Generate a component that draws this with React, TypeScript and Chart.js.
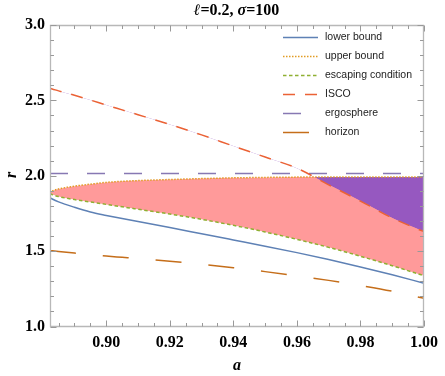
import React, { useEffect, useRef } from 'react';
import { Chart, registerables } from 'chart.js';

Chart.register(...registerables);

// ---------- data ----------
const aValues = [0.8823, 0.8825, 0.883, 0.885, 0.89, 0.895, 0.9, 0.905, 0.91, 0.92, 0.93, 0.94, 0.95, 0.96, 0.97, 0.98, 0.99, 1.0];
const lowerBound = [1.857, 1.852, 1.846, 1.827, 1.791, 1.76, 1.737, 1.716, 1.696, 1.656, 1.615, 1.574, 1.533, 1.49, 1.444, 1.395, 1.343, 1.287];
const upperBound = [1.884, 1.891, 1.898, 1.912, 1.931, 1.944, 1.956, 1.963, 1.968, 1.975, 1.981, 1.986, 1.989, 1.991, 1.992, 1.992, 1.992, 1.992];
const escapingCondition = [1.884, 1.88, 1.875, 1.862, 1.842, 1.826, 1.81, 1.794, 1.778, 1.746, 1.711, 1.671, 1.627, 1.578, 1.525, 1.466, 1.403, 1.337];
const isco = [2.58, 2.579, 2.576, 2.563, 2.534, 2.502, 2.469, 2.437, 2.405, 2.34, 2.271, 2.197, 2.124, 2.05, 1.94, 1.832, 1.72, 1.629];
const ergoA = [0.8823, 1.0];
const ergosphere = [2.015, 2.015];
const horizon = [1.503, 1.503, 1.502, 1.498, 1.487, 1.477, 1.467, 1.459, 1.451, 1.433, 1.413, 1.39, 1.364, 1.336, 1.306, 1.272, 1.234, 1.187];

const X_MIN = 0.8823;
const X_MAX = 1.0;
const Y_MIN = 1.0;
const Y_MAX = 3.0;
const xTickValues = [0.9, 0.92, 0.94, 0.96, 0.98, 1.0];
const xTickLabels = ['0.90', '0.92', '0.94', '0.96', '0.98', '1.00'];
const yTickValues = [1.0, 1.5, 2.0, 2.5, 3.0];
const yTickLabels = ['1.0', '1.5', '2.0', '2.5', '3.0'];
const X_MINOR = 0.005;
const X_MAJOR = 0.02;
const Y_MINOR = 0.1;
const Y_MAJOR = 0.5;

const seriesLabels = ['lower bound', 'upper bound', 'escaping condition', 'ISCO', 'ergosphere', 'horizon'];

const SERIF = "'Liberation Serif', 'Times New Roman', serif";
const SANS = "'Liberation Sans', Arial, sans-serif";

const pts = (xs: number[], ys: number[]) => xs.map((x, i) => ({ x, y: ys[i] }));

const framePlugin = {
  id: 'frameTicks',
  afterDatasetsDraw(chart: any) {
    const { ctx, chartArea: ca, scales } = chart;
    const xs = scales.x;
    const ys = scales.y;
    ctx.save();
    // frame
    ctx.strokeStyle = '#b8b8b8';
    ctx.lineWidth = 1.3;
    const L = Math.round(ca.left) + 0.5;
    const R = Math.round(ca.right) - 0.5;
    const T = Math.round(ca.top) + 0.5;
    const B = Math.round(ca.bottom) - 0.5;
    ctx.beginPath();
    ctx.rect(L, T, R - L, B - T);
    ctx.stroke();
    // ticks (inward on all sides)
    ctx.strokeStyle = '#999999';
    ctx.lineWidth = 1;
    ctx.beginPath();
    for (let k = Math.ceil(X_MIN / X_MINOR - 1e-6); k * X_MINOR <= X_MAX + 1e-9; k++) {
      const v = k * X_MINOR;
      const px = Math.round(xs.getPixelForValue(v)) + 0.5;
      const r = v / X_MAJOR;
      const major = Math.abs(r - Math.round(r)) < 1e-6;
      const len = major ? 6 : 3.5;
      ctx.moveTo(px, B);
      ctx.lineTo(px, B - len);
      ctx.moveTo(px, T);
      ctx.lineTo(px, T + len);
    }
    for (let k = Math.ceil(Y_MIN / Y_MINOR - 1e-6); k * Y_MINOR <= Y_MAX + 1e-9; k++) {
      const v = k * Y_MINOR;
      const py = Math.round(ys.getPixelForValue(v)) + 0.5;
      const r = v / Y_MAJOR;
      const major = Math.abs(r - Math.round(r)) < 1e-6;
      const len = major ? 6 : 3.5;
      ctx.moveTo(L, py);
      ctx.lineTo(L + len, py);
      ctx.moveTo(R, py);
      ctx.lineTo(R - len, py);
    }
    ctx.stroke();

    // legend inside plot
    const ds = chart.data.datasets;
    const x0 = ca.right - 141;
    const x1 = x0 + 35;
    let yy = 37;
    ctx.font = `10.5px ${SANS}`;
    ctx.textBaseline = 'middle';
    ctx.textAlign = 'left';
    for (let i = 1; i <= 6; i++) {
      const d = ds[i];
      ctx.save();
      ctx.strokeStyle = d.borderColor;
      ctx.lineWidth = d.borderWidth;
      ctx.setLineDash(d.borderDash || []);
      ctx.beginPath();
      ctx.moveTo(x0, yy + 0.5);
      ctx.lineTo(x1, yy + 0.5);
      ctx.stroke();
      ctx.restore();
      ctx.fillStyle = '#222';
      ctx.fillText(d.label, x1 + 7, yy);
      yy += 19;
    }

    // title with italic symbols
    const parts = [
      { t: '\u2113', it: true },
      { t: '=0.2, ', it: false },
      { t: '\u03c3', it: true },
      { t: '=100', it: false },
    ];
    const fontFor = (it: boolean) => `${it ? 'italic ' : ''}bold 16px ${SERIF}`;
    let total = 0;
    for (const p of parts) {
      ctx.font = fontFor(p.it);
      total += ctx.measureText(p.t).width;
    }
    let tx = 236.5 - total / 2;
    ctx.fillStyle = '#000';
    ctx.textBaseline = 'middle';
    for (const p of parts) {
      ctx.font = fontFor(p.it);
      ctx.fillText(p.t, tx, 11);
      tx += ctx.measureText(p.t).width;
    }

    // axis titles
    ctx.font = `italic bold 16px ${SERIF}`;
    ctx.textAlign = 'center';
    ctx.fillText('a', (ca.left + ca.right) / 2, 366);
    ctx.save();
    ctx.translate(12, 175);
    ctx.rotate(-Math.PI / 2);
    ctx.fillText('r', 0, 0);
    ctx.restore();
    ctx.restore();
  },
};

export default function App() {
  const ref = useRef<HTMLCanvasElement>(null);
  useEffect(() => {
    const lineBase = {
      fill: false,
      pointRadius: 0,
      borderWidth: 1.5,
      cubicInterpolationMode: 'monotone' as const,
    };
    const chart = new Chart(ref.current as HTMLCanvasElement, {
      type: 'line',
      data: {
        datasets: [
          {
            ...lineBase,
            label: 'purple region',
            data: pts(aValues, upperBound),
            borderWidth: 0,
            borderColor: 'rgba(0,0,0,0)',
            fill: { target: 4, above: '#9658c0', below: 'rgba(0,0,0,0)' },
          },
          {
            ...lineBase,
            label: seriesLabels[0],
            data: pts(aValues, lowerBound),
            borderColor: '#5e81b5',
          },
          {
            ...lineBase,
            label: seriesLabels[1],
            data: pts(aValues, upperBound),
            borderColor: '#e19c24',
            borderDash: [1.5, 1.5],
            backgroundColor: '#ff9a9a',
            fill: 3,
          },
          {
            ...lineBase,
            label: seriesLabels[2],
            data: pts(aValues, escapingCondition),
            borderColor: '#8fb032',
            borderDash: [3.5, 2.5],
          },
          {
            ...lineBase,
            label: seriesLabels[3],
            data: pts(aValues, isco),
            borderColor: '#eb6235',
            borderDash: [12, 10],
          },
          {
            ...lineBase,
            label: seriesLabels[4],
            data: pts(ergoA, ergosphere),
            borderColor: '#8778b3',
            borderDash: [18, 19],
          },
          {
            ...lineBase,
            label: seriesLabels[5],
            data: pts(aValues, horizon),
            borderColor: '#c56e1a',
            borderDash: [26, 27],
          },
        ] as any,
      },
      options: {
        animation: false,
        responsive: false,
        layout: { padding: { top: 25, right: 16.5, left: 0, bottom: 0 } },
        plugins: {
          legend: { display: false },
          title: { display: false },
          tooltip: { enabled: false },
          filler: { drawTime: 'beforeDatasetsDraw', propagate: false } as any,
        },
        scales: {
          x: {
            type: 'linear',
            min: X_MIN,
            max: X_MAX,
            afterBuildTicks: (s: any) => {
              s.ticks = xTickValues.map((v) => ({ value: v }));
            },
            afterFit: (s: any) => {
              s.height = 49.5;
            },
            grid: { display: false, drawTicks: false },
            border: { display: false },
            ticks: {
              autoSkip: false,
              maxRotation: 0,
              padding: 7,
              color: '#000',
              font: { family: SERIF, weight: 'bold', size: 16 },
              callback: (v: any) => xTickLabels[xTickValues.findIndex((t) => Math.abs(t - v) < 1e-9)],
            },
          },
          y: {
            type: 'linear',
            min: Y_MIN,
            max: Y_MAX,
            afterBuildTicks: (s: any) => {
              s.ticks = yTickValues.map((v) => ({ value: v }));
            },
            afterFit: (s: any) => {
              s.width = 50;
            },
            grid: { display: false, drawTicks: false },
            border: { display: false },
            ticks: {
              autoSkip: false,
              padding: 5,
              color: '#000',
              font: { family: SERIF, weight: 'bold', size: 16 },
              callback: (v: any) => yTickLabels[yTickValues.findIndex((t) => Math.abs(t - v) < 1e-9)],
            },
          },
        },
      } as any,
      plugins: [framePlugin],
    });
    return () => chart.destroy();
  }, []);
  return (
    <div style={{ position: 'fixed', left: 0, top: 0, width: 445, height: 376, background: '#fff' }}>
      <canvas ref={ref} width={445} height={376} style={{ display: 'block', width: 445, height: 376 }} />
    </div>
  );
}
